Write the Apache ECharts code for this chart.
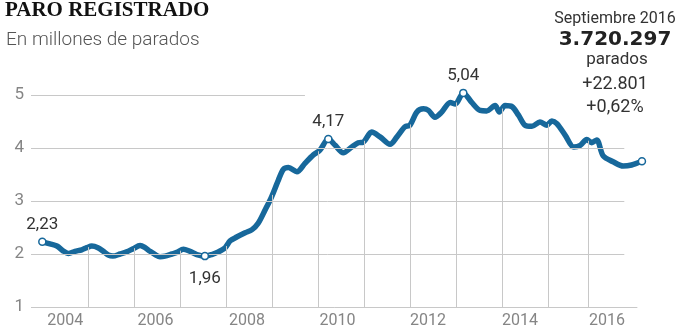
<!DOCTYPE html>
<html>
<head>
<meta charset="utf-8">
<script src="https://cdn.jsdelivr.net/npm/echarts@6/dist/echarts.min.js"></script>
<style>
html,body{margin:0;padding:0;background:#fff;}
#chart{width:684px;height:329px;}
</style>
</head>
<body>
<div id="chart"></div>
<script>
// Months since January 2004 (traced positions) and registered unemployed (millions)
const meses = [0,2.0,3.8,5.4,6.8,8.5,10.3,11.6,12.9,14.5,15.9,17.2,18.4,20.3,22.0,23.7,25.5,26.8,28.1,29.4,30.7,32.0,33.8,35.1,36.8,38.5,40.3,42.4,44.2,45.9,47.7,49.0,50.7,52.9,54.7,56.3,58.1,59.8,61.6,62.9,64.2,66.4,68.5,70.7,72.4,74.6,76.4,78.5,80.7,82.4,83.7,85.9,88.1,90.7,92.5,94.6,95.9,97.7,99.4,100.7,102.4,104.2,106.4,107.7,109.8,112.0,114.2,115.9,118.1,119.2,120.7,122.5,124.2,125.9,127.7,129.8,131.6,132.9,134.2,136.4,138.6,140.3,142.0,143.3,144.6,146.3,148.9,151.5,153.7,156.4];
const parados = [2.23,2.19,2.15,2.06,2.01,2.05,2.08,2.12,2.15,2.12,2.05,1.98,1.96,2.00,2.04,2.10,2.16,2.12,2.05,1.99,1.95,1.96,2.00,2.03,2.09,2.05,1.99,1.96,1.99,2.04,2.12,2.25,2.32,2.40,2.46,2.58,2.83,3.08,3.40,3.60,3.63,3.55,3.71,3.87,3.96,4.17,4.05,3.91,4.02,4.10,4.11,4.30,4.21,4.07,4.21,4.40,4.43,4.68,4.74,4.71,4.58,4.68,4.86,4.83,5.04,4.86,4.71,4.70,4.80,4.68,4.80,4.78,4.62,4.43,4.41,4.49,4.43,4.51,4.46,4.24,4.02,4.05,4.16,4.10,4.15,3.85,3.74,3.66,3.68,3.75];
// indices of highlighted points (with labels)
const destacados = [0, 27, 45, 64];
const posEtiqueta = ['top', 'bottom', 'top', 'top'];
const ultimo = parados.length - 1;

// x-axis labels
const anios = ['2004','2006','2008','2010','2012','2014','2016'];
const posAnios = [6, 29.5, 53.4, 77, 100.6, 124.6, 147.3];
// vertical drop lines (year boundaries, months since Jan 2004)
const caidas = [12,24,36,48,60,72,84,96,108,120,132,142.5];
// horizontal gridlines: value and where they end (months)
const rejillaY = [1, 2, 3, 4, 5];
const rejillaFin = [155.2, 151.8, 151.8, 151.8, 68.5];

const XMIN = -2.95, XMAX = 158.5;
const AZUL = '#17689b';

function interp(m) {
  for (let i = 0; i < meses.length - 1; i++) {
    if (m >= meses[i] && m <= meses[i + 1]) {
      const t = (m - meses[i]) / (meses[i + 1] - meses[i]);
      return parados[i] + t * (parados[i + 1] - parados[i]);
    }
  }
  return parados[ultimo];
}

const serie = meses.map((m, i) => [m, parados[i]]);
const gridLines = rejillaY.map((v, i) => [{coord: [XMIN, v]}, {coord: [rejillaFin[i], v]}]);
const dropLines = caidas.map(m => [{coord: [m, 1]}, {coord: [m, interp(m)]}]);
const puntos = destacados.map((idx, j) => ({
  value: [meses[idx], parados[idx]],
  label: {show: true, position: posEtiqueta[j], distance: posEtiqueta[j] === 'bottom' ? 10 : 4}
}));
puntos.push({value: [meses[ultimo], parados[ultimo]], label: {show: false}});

const chart = echarts.init(document.getElementById('chart'), null, {renderer: 'canvas'});
chart.setOption({
  animation: false,
  backgroundColor: '#fff',
  grid: {left: 31, right: 34, top: 95, bottom: 21.3, containLabel: false},
  xAxis: {
    type: 'value', min: XMIN, max: XMAX,
    axisLine: {show: false}, axisTick: {show: false}, splitLine: {show: false},
    axisLabel: {
      customValues: posAnios,
      formatter: (v) => { const k = posAnios.indexOf(v); return k >= 0 ? anios[k] : ''; },
      color: '#858585', fontSize: 16, fontFamily: 'Roboto', margin: 6
    }
  },
  yAxis: {
    type: 'value', min: 1, max: 5, interval: 1,
    axisLine: {show: false}, axisTick: {show: false}, splitLine: {show: false},
    axisLabel: {color: '#858585', fontSize: 17, fontFamily: 'Roboto', margin: 7}
  },
  series: [
    {
      type: 'line', data: serie, silent: true, z: 1, showSymbol: false,
      lineStyle: {opacity: 0}, clip: false,
      markLine: {
        silent: true, symbol: 'none', animation: false,
        label: {show: false},
        lineStyle: {color: '#c8c8c8', width: 1, type: 'solid'},
        emphasis: {disabled: true},
        data: gridLines.concat(dropLines)
      }
    },
    {
      type: 'line', data: serie, z: 3, showSymbol: false, smooth: 0.3, clip: false,
      lineStyle: {color: AZUL, width: 5.5, cap: 'round', join: 'round'},
      itemStyle: {color: AZUL}
    },
    {
      type: 'scatter', data: puntos, z: 5, clip: false,
      symbol: 'circle', symbolSize: 7,
      itemStyle: {color: '#fff', opacity: 1, borderColor: AZUL, borderWidth: 1.5},
      label: {
        color: '#333', fontSize: 17, fontFamily: 'Roboto',
        formatter: (p) => p.value[1].toFixed(2).replace('.', ',')
      }
    }
  ],
  graphic: [
    {type: 'text', left: 5, top: 0, style: {text: 'PARO REGISTRADO', font: 'bold 21px "Liberation Serif"', fill: '#111'}},
    {type: 'text', left: 6, top: 31, style: {text: 'En millones de parados', font: '300 19px Roboto', fill: '#555'}},
    {type: 'text', x: 615, y: 19, style: {text: 'Septiembre 2016', font: '16px Roboto', fill: '#333', align: 'center', verticalAlign: 'middle'}},
    {type: 'text', x: 615, y: 40, style: {text: '3.720.297', font: 'bold 20px "DejaVu Sans"', fill: '#222', align: 'center', verticalAlign: 'middle'}},
    {type: 'text', x: 617, y: 60, style: {text: 'parados', font: '17px Roboto', fill: '#333', align: 'center', verticalAlign: 'middle'}},
    {type: 'text', x: 615, y: 84, style: {text: '+22.801', font: '18px Roboto', fill: '#333', align: 'center', verticalAlign: 'middle'}},
    {type: 'text', x: 615, y: 107, style: {text: '+0,62%', font: '18px Roboto', fill: '#333', align: 'center', verticalAlign: 'middle'}}
  ]
});
</script>
</body>
</html>
